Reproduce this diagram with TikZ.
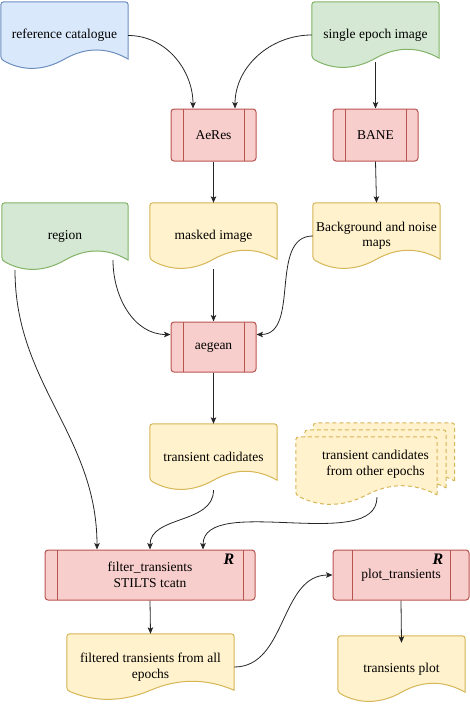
\documentclass[tikz,border=0pt]{standalone}
\usepackage{fontspec}
\setmainfont{Liberation Serif}
\usepackage{xcolor}
\usepackage{tikz}
\usetikzlibrary{arrows.meta,calc}

\definecolor{bluefill}{HTML}{DAE8FC}
\definecolor{bluedraw}{HTML}{6C8EBF}
\definecolor{greenfill}{HTML}{D5E8D4}
\definecolor{greendraw}{HTML}{82B366}
\definecolor{redfill}{HTML}{F8CECC}
\definecolor{reddraw}{HTML}{B85450}
\definecolor{yellowfill}{HTML}{FFF2CC}
\definecolor{yellowdraw}{HTML}{D6B656}

\pgfdeclarelayer{background}
\pgfsetlayers{background,main}

\newcommand{\doctext}{\fontsize{13.5}{15.5}\selectfont}
% hình tài liệu (đáy lượn sóng) quanh một nút
\newcommand{\docshape}[2]{%
	\draw[#2] let \p1=(#1.south west), \p2=(#1.north east),
		\n1={\x2-\x1}, \n2={\y2-\y1} in
		(\x2,{\y1+0.15*\n2}) [rounded corners=3pt] -- (\x2,\y2) -- (\x1,\y2) -- (\x1,{\y1+0.15*\n2}) [sharp corners]
		.. controls ({\x1+0.1667*\n1},{\y1-0.03*\n2}) and ({\x1+0.3333*\n1},{\y1-0.03*\n2}) .. ({\x1+0.5*\n1},{\y1+0.15*\n2})
		.. controls ({\x1+0.6667*\n1},{\y1+0.33*\n2}) and ({\x1+0.8333*\n1},{\y1+0.33*\n2}) .. (\x2,{\y1+0.15*\n2}) -- cycle;}

\tikzset{
	docbox/.style={minimum width=127pt, minimum height=66pt, inner sep=0pt, align=center, font=\doctext},
	doc/.style={line width=1pt},
	bluedoc/.style={doc, draw=bluedraw, fill=bluefill},
	greendoc/.style={doc, draw=greendraw, fill=greenfill},
	yellowdoc/.style={doc, draw=yellowdraw, fill=yellowfill},
	stackdoc/.style={yellowdoc, dash pattern=on 4pt off 3pt},
	proc/.style={draw=reddraw, fill=redfill, line width=1pt, rounded corners=3pt,
		minimum width=85pt, minimum height=52pt, align=center, font=\doctext,
		path picture={\draw[reddraw, line width=1pt]
			([xshift=#1]path picture bounding box.north west) -- ([xshift=#1]path picture bounding box.south west)
			([xshift=-#1]path picture bounding box.north east) -- ([xshift=-#1]path picture bounding box.south east);}},
	proc/.default=12pt,
	rmark/.style={font=\fontsize{16}{16}\selectfont\bfseries\itshape, inner sep=0pt},
	link/.style={draw=black!85, line width=0.8pt, -{Stealth[length=6.5pt,width=5.5pt,inset=1.5pt]}}
}

\begin{document}
\begin{tikzpicture}[x=1pt,y=-1pt]
			\useasboundingbox (0,0) rectangle (470,704);
			% Vẽ các tài liệu
			\node[docbox, minimum height=67pt] (refcat) at (64.5,35.5) {reference catalogue};
			\node[docbox] (epoch) at (375.5,35) {single epoch image};
			\node[docbox, minimum width=126pt, minimum height=67pt] (region) at (65,236.5) {region};
			\node[docbox] (masked) at (213.5,236) {masked image};
			\node[docbox] (bgmaps) at (376.5,236) {Background and noise\\maps};
			\node[docbox] (cands) at (213.5,457) {transient cadidates};
			\node[docbox, minimum width=159pt, minimum height=82pt] (others) at (375.5,464) {transient candidates\\from other epochs};
			\node[docbox, minimum width=141pt, minimum height=68pt] (oback) at ([xshift=8.5pt,yshift=7pt]others.center) {};
			\node[docbox, minimum width=141pt, minimum height=68pt] (omid) at (others.center) {};
			\node[docbox, minimum width=141pt, minimum height=68pt] (ofront) at ([xshift=-9pt,yshift=-7pt]others.center) {};
			\node[docbox, minimum width=167pt] (filtered) at (150.5,667) {filtered transients from all\\epochs};
			\node[docbox] (tplot) at (401.5,669) {transients plot};
			% Vẽ các bước xử lý
			\node[proc] (aeres) at (213.5,135) {AeRes};
			\node[proc] (bane) at (375.5,135) {BANE};
			\node[proc, minimum height=50pt] (aegean) at (213.5,347) {aegean};
			\node[proc, minimum width=210pt, minimum height=50pt] (filter) at (150,575) {filter\_transients\\STILTS tcatn};
			\node[proc=19pt, minimum width=136pt, minimum height=50pt] (plot) at (401,575) {plot\_transients};
			\node[rmark] (filterR) at (229,559) {R};
			\node[rmark] (plotR) at (438,559) {R};
			% nền các tài liệu
			\begin{pgfonlayer}{background}
				\docshape{refcat}{bluedoc}
				\docshape{epoch}{greendoc}
				\docshape{region}{greendoc}
				\docshape{masked}{yellowdoc}
				\docshape{bgmaps}{yellowdoc}
				\docshape{cands}{yellowdoc}
				\docshape{oback}{stackdoc}
				\docshape{omid}{stackdoc}
				\docshape{ofront}{stackdoc}
				\docshape{filtered}{yellowdoc}
				\docshape{tplot}{yellowdoc}
			\end{pgfonlayer}
			% Vẽ mũi tên
			\draw[link] (refcat.east) to[out=0,in=90] ([xshift=-20.5pt]aeres.north);
			\draw[link] (epoch.west) to[out=180,in=90] ([xshift=21.5pt]aeres.north);
			\draw[link] ([yshift=6pt]epoch.south) -- (bane.north);
			\draw[link] (aeres.south) -- (masked.north);
			\draw[link] (bane.south) -- (bgmaps.north);
			\draw[link] ([xshift=48pt,yshift=10pt]region.south) to[out=-90,in=180] ([yshift=12.5pt]aegean.west);
			\draw[link] (masked.south) -- (aegean.north);
			\draw[link] (bgmaps.west) to[out=180,in=0] ([yshift=12.5pt]aegean.east);
			\draw[link] (aegean.south) -- (cands.north);
			\draw[link] ([xshift=-50pt]region.south) to[out=-90,in=90] ([xshift=-53pt]filter.north);
			\draw[link] (cands.south) to[out=-90,in=90] (filter.north);
			\draw[link] ([xshift=1.5pt,yshift=8pt]others.south) to[out=-90,in=90,looseness=0.8] ([xshift=53pt]filter.north);
			\draw[link] (filter.south) -- (filtered.north);
			\draw[link] (filtered.east) to[out=0,in=180] (plot.west);
			\draw[link] (plot.south) -- ([yshift=-7pt]tplot.north);
		\end{tikzpicture}
\end{document}
